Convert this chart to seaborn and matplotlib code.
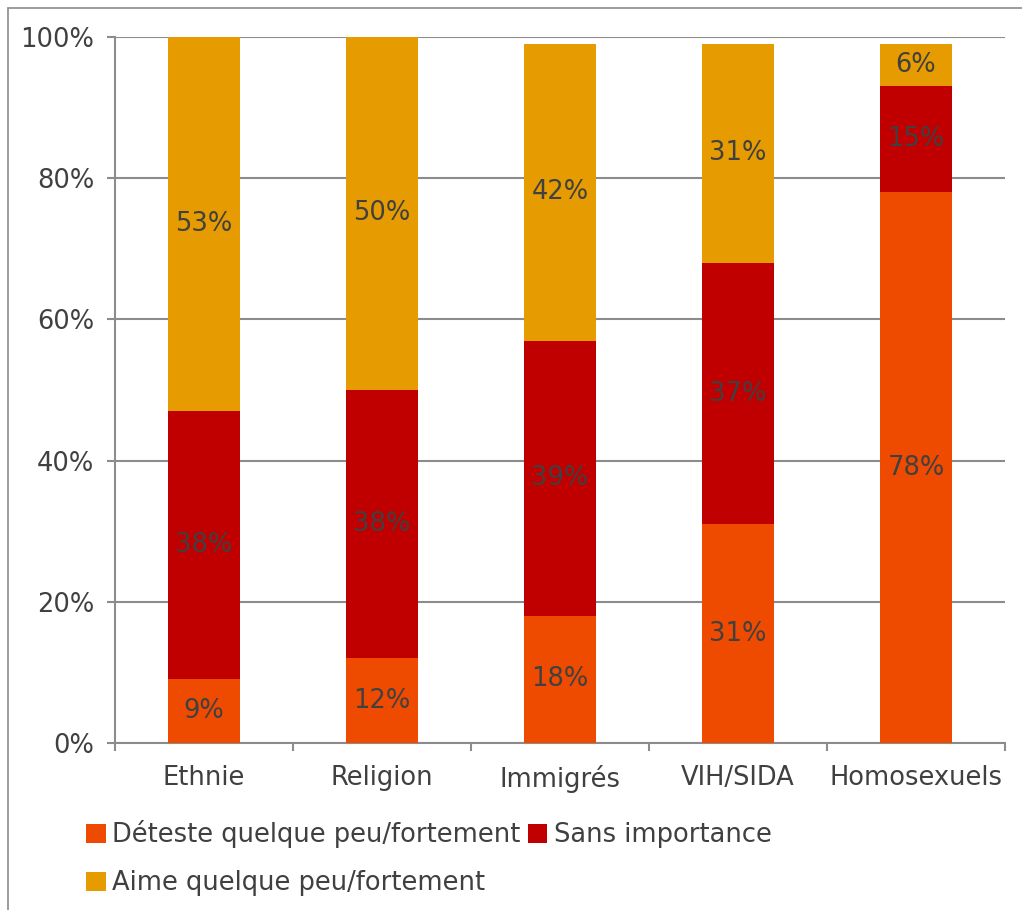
import matplotlib
matplotlib.use("Agg")
import matplotlib.pyplot as plt
import seaborn as sns
import pandas as pd
import numpy as np
from matplotlib.lines import Line2D
from matplotlib.patches import Patch

categories = ["Ethnie", "Religion", "Immigrés", "VIH/SIDA", "Homosexuels"]
deteste = [9, 12, 18, 31, 78]
sans_importance = [38, 38, 39, 37, 15]
aime = [53, 50, 42, 31, 6]
series_names = ["Déteste quelque peu/fortement", "Sans importance", "Aime quelque peu/fortement"]
y_ticks = [0, 20, 40, 60, 80, 100]

colors = ["#EE4B00", "#C00000", "#E69B00"]
text_color = "#404040"
grid_color = "#8C8C8C"
fs = 18.5

sns.set_theme(style="white")
plt.rcParams['font.family'] = ['DejaVu Sans']

fig = plt.figure(figsize=(10.22, 9.10), dpi=100)
ax = fig.add_axes([115/1022, 1-743/910, (1005-115)/1022, (743-37)/910])

df = pd.DataFrame({"cat": categories, "d": deteste, "s": sans_importance, "a": aime})
bottoms = [np.zeros(len(categories)), np.array(deteste, float), np.array(deteste, float) + np.array(sans_importance, float)]
for col, bottom, color in zip(["d", "s", "a"], bottoms, colors):
    sns.barplot(data=df, x="cat", y=col, bottom=bottom, color=color, width=0.4,
                saturation=1, ax=ax, zorder=3, linewidth=0)

for cont in ax.containers:
    labels = [f"{int(round(b.get_height()))}%" for b in cont]
    ax.bar_label(cont, labels=labels, label_type="center", color=text_color, fontsize=fs)

ax.set_xlim(-0.5, 4.5)
ax.set_ylim(0, 100)
ax.set_yticks(y_ticks)
ax.set_yticklabels([f"{v}%" for v in y_ticks])
ax.set_xlabel("")
ax.set_ylabel("")
ax.yaxis.grid(True, color=grid_color, linewidth=1.5, zorder=0)
ax.set_axisbelow(True)

for s in ["top", "right"]:
    ax.spines[s].set_visible(False)
for s in ["left", "bottom"]:
    ax.spines[s].set_color(grid_color)
    ax.spines[s].set_linewidth(1.5)

ax.set_xticks(np.arange(-0.5, 5.0, 1.0), minor=True)
ax.tick_params(axis="x", which="major", length=0, pad=16, labelsize=fs, labelcolor=text_color)
ax.tick_params(axis="x", which="minor", length=6, width=1.5, color=grid_color, direction="out", bottom=True)
ax.tick_params(axis="y", which="major", length=6, width=1.5, color=grid_color, direction="out", left=True,
               pad=9, labelsize=fs, labelcolor=text_color)

handles = [Patch(facecolor=c, edgecolor="none") for c in colors]
order = [0, 2, 1]
leg = fig.legend([handles[i] for i in order], [series_names[i] for i in order],
                 ncol=2, loc="upper left", bbox_to_anchor=(76/1022, 1-810/910),
                 frameon=False, fontsize=fs, handlelength=0.75, handleheight=0.75,
                 handletextpad=0.25, columnspacing=0.3, labelspacing=0.85, borderaxespad=0)
for t in leg.get_texts():
    t.set_color(text_color)

# figure border (left and top)
fig.add_artist(Line2D([8/1022, 8/1022], [0, 1-8/910], transform=fig.transFigure, color="#8C8C8C", linewidth=1.2))
fig.add_artist(Line2D([8/1022, 1], [1-8/910, 1-8/910], transform=fig.transFigure, color="#8C8C8C", linewidth=1.2))

fig.savefig("out.png", dpi=100)
